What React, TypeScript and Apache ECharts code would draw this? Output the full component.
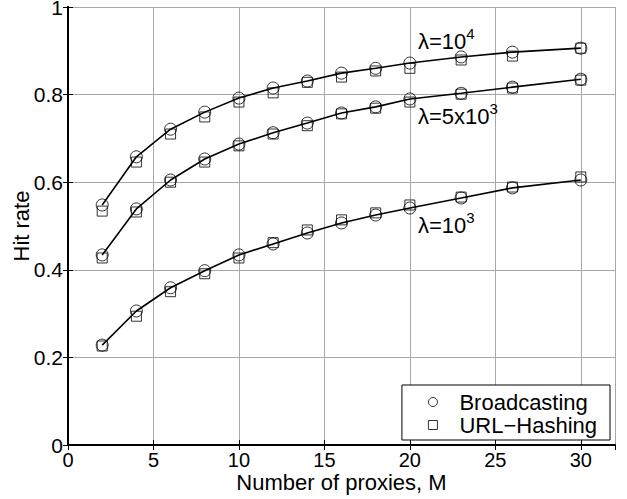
import React, { useEffect, useRef } from "react";
import * as echarts from "echarts";

const proxies = [2, 4, 6, 8, 10, 12, 14, 16, 18, 20, 23, 26, 30];

const bc1e4 = [0.548, 0.658, 0.721, 0.76, 0.792, 0.815, 0.831, 0.849, 0.86, 0.872, 0.886, 0.897, 0.906];
const uh1e4 = [0.534, 0.646, 0.71, 0.749, 0.783, 0.804, 0.828, 0.84, 0.854, 0.86, 0.879, 0.888, 0.906];

const bc5e3 = [0.434, 0.539, 0.605, 0.653, 0.687, 0.713, 0.735, 0.758, 0.772, 0.79, 0.803, 0.817, 0.835];
const uh5e3 = [0.427, 0.532, 0.6, 0.646, 0.683, 0.71, 0.729, 0.756, 0.769, 0.783, 0.801, 0.815, 0.833];

const bc1e3 = [0.228, 0.306, 0.359, 0.398, 0.434, 0.459, 0.484, 0.507, 0.525, 0.541, 0.564, 0.587, 0.605];
const uh1e3 = [0.226, 0.294, 0.35, 0.391, 0.427, 0.462, 0.491, 0.514, 0.53, 0.548, 0.566, 0.589, 0.612];

const legendNames = ["Broadcasting", "URL\u2212Hashing"];
const xTitle = "Number of proxies, M";
const yTitle = "Hit rate";
const curveLabels = [
  { main: "\u03bb=10", sup: "4" },
  { main: "\u03bb=5x10", sup: "3" },
  { main: "\u03bb=10", sup: "3" },
];

const FONT = "'Liberation Sans', Arial, Helvetica, sans-serif";

const zip = (ys: number[]) => proxies.map((x, i) => [x, ys[i]]);

export default function App() {
  const ref = useRef<HTMLDivElement>(null);
  useEffect(() => {
    if (!ref.current) return;
    const chart = echarts.init(ref.current, null, { renderer: "svg" });
    const lineSeries = (ys: number[]) => ({
      type: "line",
      name: "fit",
      data: zip(ys),
      showSymbol: false,
      symbol: "none",
      lineStyle: { color: "#000", width: 1.6 },
      z: 3,
      silent: true,
    });
    const hollow = { color: "rgba(255,255,255,0)", borderColor: "#000", borderWidth: 1 };
    const circ = (ys: number[]) => ({
      type: "scatter",
      name: legendNames[0],
      data: zip(ys),
      symbol: "circle",
      symbolSize: 12,
      itemStyle: hollow,
      z: 4,
    });
    const sq = (ys: number[]) => ({
      type: "scatter",
      name: legendNames[1],
      data: zip(ys),
      symbol: "rect",
      symbolSize: 10,
      itemStyle: hollow,
      z: 4,
    });
    const axisLine = { show: true, lineStyle: { color: "#000", width: 2 } };
    const tick = { show: true, inside: true, length: 5, lineStyle: { color: "#000", width: 1 } };
    const labelPos = [
      { x: 418, y: 41 },
      { x: 418, y: 116 },
      { x: 418, y: 225 },
    ];
    chart.setOption({
      animation: false,
      backgroundColor: "#fff",
      textStyle: { fontFamily: FONT, color: "#000" },
      grid: { left: 68, right: 12, top: 7, bottom: 54, containLabel: false, outerBoundsMode: "none" },
      xAxis: [
        {
          type: "value",
          min: 0,
          max: 32,
          interval: 5,
          name: xTitle,
          nameLocation: "middle",
          nameGap: 26,
          nameMoveOverlap: false,
          nameTextStyle: { fontSize: 22, lineHeight: 22, color: "#000", fontFamily: FONT, verticalAlign: "top" },
          axisLine,
          axisTick: tick,
          axisLabel: { fontSize: 20, lineHeight: 20, color: "#000", margin: 5, fontFamily: FONT, showMaxLabel: false },
          splitLine: { show: true, lineStyle: { color: "#a8a8a8", width: 1 } },
        },
        {
          type: "value",
          position: "top",
          min: 0,
          max: 32,
          interval: 5,
          axisLine,
          axisTick: tick,
          axisLabel: { show: false },
          splitLine: { show: false },
        },
      ],
      yAxis: [
        {
          type: "value",
          min: 0,
          max: 1,
          interval: 0.2,
          name: yTitle,
          nameLocation: "middle",
          nameGap: 36,
          nameMoveOverlap: false,
          nameRotate: 90,
          nameTextStyle: { fontSize: 22, color: "#000", fontFamily: FONT },
          axisLine,
          axisTick: tick,
          axisLabel: { fontSize: 21, lineHeight: 14, color: "#000", margin: 5, fontFamily: FONT },
          splitLine: { show: true, lineStyle: { color: "#a8a8a8", width: 1 } },
        },
        {
          type: "value",
          position: "right",
          min: 0,
          max: 1,
          interval: 0.2,
          axisLine,
          axisTick: tick,
          axisLabel: { show: false },
          splitLine: { show: false },
        },
      ],
      legend: {
        data: [
          { name: legendNames[0], icon: "circle", itemStyle: hollow },
          { name: legendNames[1], icon: "rect", itemStyle: hollow },
        ],
        orient: "vertical",
        right: 17,
        bottom: 59,
        itemWidth: 9,
        itemHeight: 9,
        itemGap: 1,
        padding: [6, 13, 4, 26],
        borderColor: "#000",
        borderWidth: 1,
        backgroundColor: "#fff",
        textStyle: { fontSize: 22, color: "#000", fontFamily: FONT, padding: [0, 0, 0, 17] },
        selectedMode: false,
      },
      graphic: curveLabels.map((c, i) => ({
        type: "text",
        x: labelPos[i].x,
        y: labelPos[i].y,
        z: 10,
        style: {
          text: `{m|${c.main}}{s|${c.sup}}`,
          verticalAlign: "middle",
          rich: {
            m: { fontSize: 22, fontFamily: FONT, fill: "#000", color: "#000", lineHeight: 30 },
            s: { fontSize: 15, fontFamily: FONT, fill: "#000", color: "#000", lineHeight: 15, verticalAlign: "top" },
          },
        },
      })),
      series: [
        lineSeries(bc1e4),
        lineSeries(bc5e3),
        lineSeries(bc1e3),
        circ(bc1e4),
        circ(bc5e3),
        circ(bc1e3),
        sq(uh1e4),
        sq(uh5e3),
        sq(uh1e3),
      ],
    });
    return () => chart.dispose();
  }, []);
  return <div ref={ref} style={{ width: 627, height: 499, position: "fixed", left: 0, top: 0 }} />;
}
